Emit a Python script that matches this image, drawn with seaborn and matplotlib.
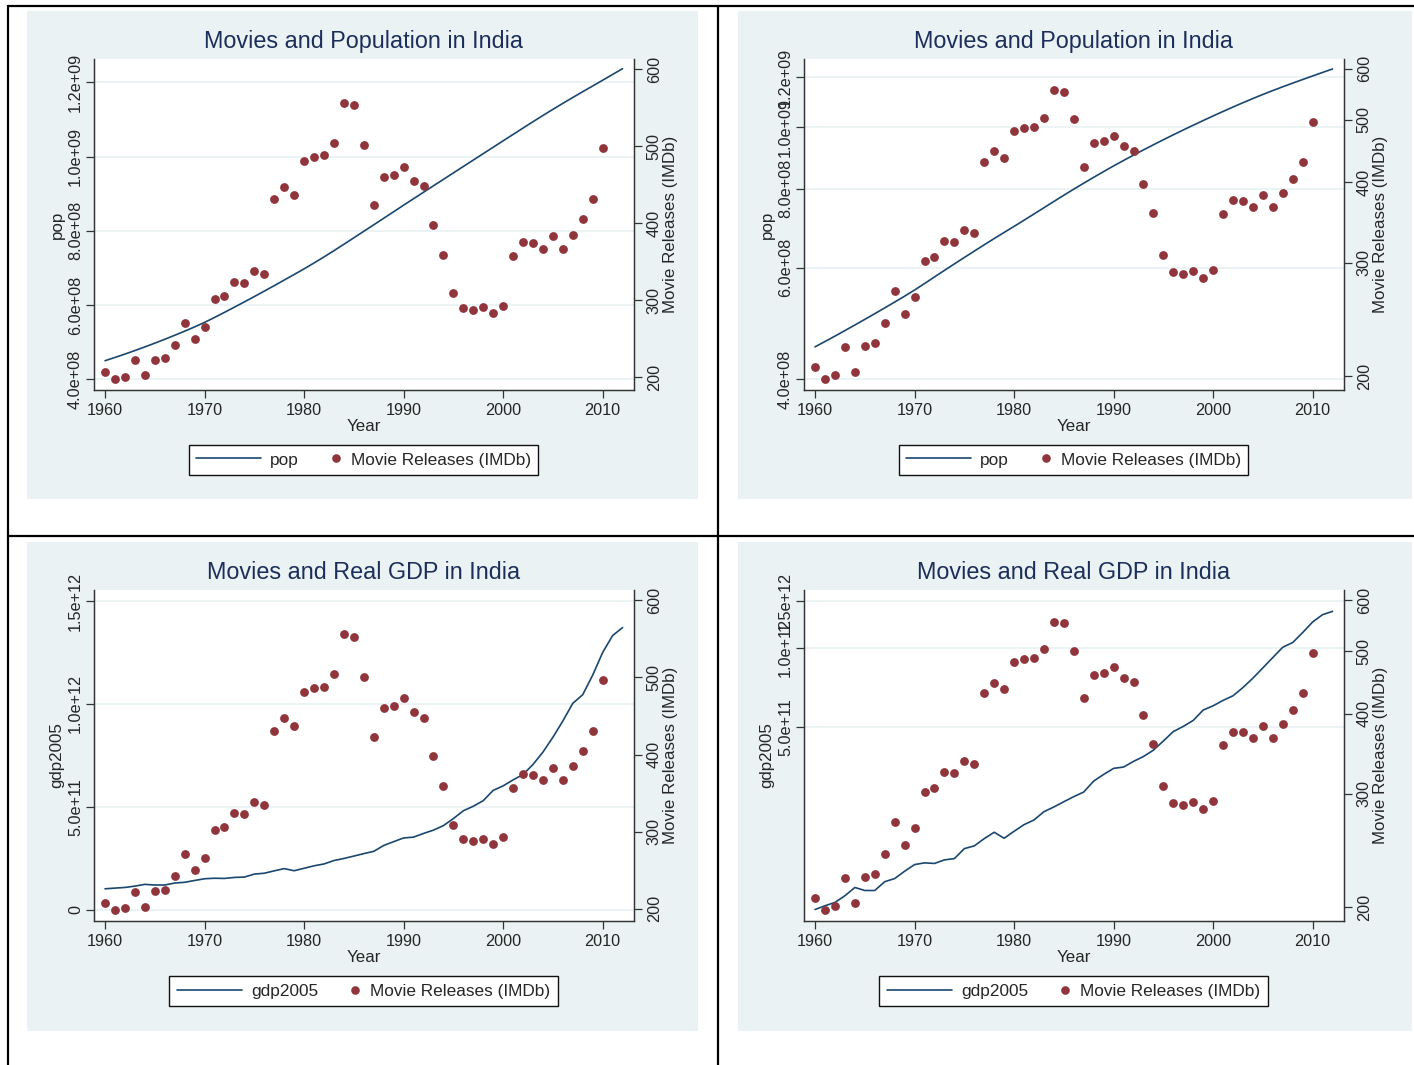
import matplotlib
matplotlib.use("Agg")
import matplotlib.pyplot as plt
import seaborn as sns
from matplotlib.patches import Rectangle
from matplotlib.lines import Line2D
from matplotlib.legend_handler import HandlerBase
from matplotlib.ticker import NullLocator

# ---------------- data ----------------
years_series = list(range(1960, 2013))
years_movies = list(range(1960, 2011))

movies = [207, 198, 201, 222, 203, 223, 225, 242, 271, 250,
          266, 302, 306, 324, 323, 338, 334, 431, 447, 437,
          481, 486, 488, 504, 556, 553, 501, 423, 460, 463,
          473, 455, 448, 398, 359, 309, 290, 288, 291, 284,
          293, 357, 375, 374, 367, 383, 367, 385, 405, 431,
          497]

pop_millions = [449.7, 458.5, 467.6, 477.1, 486.9, 497.0, 507.4, 518.2, 529.3, 540.8,
                553.0, 566.2, 580.0, 594.0, 608.2, 622.6, 637.2, 652.0, 667.0, 682.0,
                697.2, 713.1, 729.4, 746.2, 763.5, 781.0, 798.5, 816.0, 833.6, 851.2,
                868.9, 886.3, 903.7, 921.1, 938.4, 955.8, 973.1, 990.4, 1007.7, 1025.0,
                1042.3, 1059.5, 1076.7, 1093.8, 1110.6, 1127.1, 1143.3, 1159.1, 1174.7, 1190.1,
                1205.6, 1221.2, 1236.7]

gdp_1e11 = [1.02, 1.054, 1.085, 1.15, 1.236, 1.204, 1.204, 1.30, 1.336, 1.424,
            1.509, 1.532, 1.524, 1.572, 1.59, 1.734, 1.776, 1.892, 2.0, 1.898,
            2.017, 2.137, 2.226, 2.393, 2.493, 2.61, 2.728, 2.84, 3.125, 3.31,
            3.49, 3.53, 3.708, 3.87, 4.09, 4.43, 4.81, 5.03, 5.30, 5.80,
            6.02, 6.31, 6.57, 7.06, 7.66, 8.38, 9.17, 10.03, 10.45, 11.4,
            12.5, 13.32, 13.71]

pop = [v * 1e6 for v in pop_millions]
gdp = [v * 1e11 for v in gdp_1e11]

x_ticks = [1960, 1970, 1980, 1990, 2000, 2010]
movie_ticks = [200, 300, 400, 500, 600]
movie_tick_labels = ["200", "300", "400", "500", "600"]
pop_ticks = [4e8, 6e8, 8e8, 1e9, 1.2e9]
pop_tick_labels = ["4.0e+08", "6.0e+08", "8.0e+08", "1.0e+09", "1.2e+09"]
gdp_ticks_lin = [0, 5e11, 1e12, 1.5e12]
gdp_tick_labels_lin = ["0", "5.0e+11", "1.0e+12", "1.5e+12"]
gdp_ticks_log = [5e11, 1e12, 1.5e12]
gdp_tick_labels_log = ["5.0e+11", "1.0e+12", "1.5e+12"]

# ---------------- style ----------------
sns.set_style("white")
plt.rcParams["font.family"] = ["Liberation Sans", "DejaVu Sans"]

NAVY = "#1a476f"
MAROON = "#90353b"
BG = "#eaf2f3"
TITLE_C = "#1c2e5a"
AXC = "#333333"

W, H = 1414, 1065
fig = plt.figure(figsize=(W / 100, H / 100), dpi=100)
fig.patch.set_facecolor("white")


def fx(px):
    return px / W


def fy(py):
    return 1 - py / H


# panel backgrounds
for (x0, y0, x1, y1) in [(27, 11, 698, 499), (738, 11, 1412, 499),
                         (27, 542, 698, 1031), (738, 542, 1412, 1031)]:
    fig.patches.append(Rectangle((fx(x0), fy(y1)), (x1 - x0) / W, (y1 - y0) / H,
                                 transform=fig.transFigure, facecolor=BG,
                                 edgecolor="none", zorder=0))

# frame lines
for xs, ys in [((8, 1414), (5.5, 5.5)), ((8, 8), (5.5, 1065)),
               ((718, 718), (5.5, 1065)), ((8, 1414), (536, 536))]:
    fig.add_artist(Line2D([fx(xs[0]), fx(xs[1])], [fy(ys[0]), fy(ys[1])],
                          transform=fig.transFigure, color="black", lw=1.6))


class DotHandler(HandlerBase):
    def create_artists(self, legend, orig_handle, xdescent, ydescent,
                       width, height, fontsize, trans):
        x = -xdescent + width - 0.35 * fontsize
        y = (height - ydescent) / 2
        m = Line2D([x], [y], marker="o", linestyle="",
                   color=orig_handle.get_color(),
                   markersize=orig_handle.get_markersize(), markeredgewidth=0)
        m.set_transform(trans)
        return [m]


panels = [
    dict(dx=0, dy=0, y=pop, name="pop", log=False, title="Movies and Population in India",
         ylim=(3.721e8, 1.262e9), ticks=pop_ticks, tlabels=pop_tick_labels,
         mlim=(184.4, 612.5)),
    dict(dx=710, dy=0, y=pop, name="pop", log=True, title="Movies and Population in India",
         ylim=(3.85e8, 1.281e9), ticks=pop_ticks, tlabels=pop_tick_labels,
         mlim=(190.9, 621.0)),
    dict(dx=0, dy=531, y=gdp, name="gdp2005", log=False, title="Movies and Real GDP in India",
         ylim=(-5.2e10, 1.552e12), ticks=gdp_ticks_lin, tlabels=gdp_tick_labels_lin,
         mlim=(184.9, 612.9)),
    dict(dx=710, dy=531, y=gdp, name="gdp2005", log=True, title="Movies and Real GDP in India",
         ylim=(9.27e10, 1.647e12), ticks=gdp_ticks_log, tlabels=gdp_tick_labels_log,
         mlim=(190.7, 621.8)),
]

for p in panels:
    l, r = 94.3 + p["dx"], 633.5 + p["dx"]
    t, b = 59.3 + p["dy"], 389.5 + p["dy"]
    ax = fig.add_axes([fx(l), fy(b), (r - l) / W, (b - t) / H])
    ax.set_facecolor("white")
    ax.set_zorder(2)

    sns.lineplot(x=years_series, y=p["y"], ax=ax, color=NAVY, linewidth=1.2)
    ax2 = ax.twinx()
    sns.scatterplot(x=years_movies, y=movies, ax=ax2, color=MAROON, s=40,
                    linewidth=0, zorder=3)
    if ax2.get_legend() is not None:
        ax2.get_legend().remove()

    if p["log"]:
        ax.set_yscale("log")
        ax2.set_yscale("log")
    ax.set_xlim(1958.92, 2013.1)
    ax.set_ylim(*p["ylim"])
    ax2.set_ylim(*p["mlim"])

    ax.set_xticks(x_ticks)
    ax.set_xticklabels([str(v) for v in x_ticks], fontsize=11.7)
    ax.set_yticks(p["ticks"])
    ax.set_yticklabels(p["tlabels"], fontsize=11.7, rotation=90, va="center")
    ax.yaxis.set_minor_locator(NullLocator())
    ax2.set_yticks(movie_ticks)
    ax2.set_yticklabels(movie_tick_labels, fontsize=11.7, rotation=90, va="center")
    ax2.yaxis.set_minor_locator(NullLocator())

    ax.tick_params(axis="both", which="major", direction="out", length=5.5,
                   width=0.9, color=AXC, pad=2.6, left=True, bottom=True)
    ax.tick_params(axis="x", pad=4)
    ax2.tick_params(axis="y", which="major", direction="out", length=5.5,
                    width=0.9, color=AXC, pad=4, right=True)

    ax.yaxis.grid(True, color=BG, linewidth=1.3)
    ax.xaxis.grid(False)
    ax2.grid(False)

    for a in (ax, ax2):
        a.spines["top"].set_visible(False)
        for s in ("left", "right", "bottom"):
            a.spines[s].set_color(AXC)
            a.spines[s].set_linewidth(0.9)

    ax.set_xlabel("Year", fontsize=12.2)
    ax.xaxis.set_label_coords(0.5, -0.088)
    ax.set_ylabel(p["name"], fontsize=12.2)
    ax.yaxis.set_label_coords(-0.055, 0.5)
    ax2.set_ylabel("Movie Releases (IMDb)", fontsize=12.2)
    ax2.yaxis.set_label_coords(1.0547, 0.5)

    cx = 364 + p["dx"]
    fig.text(fx(cx), fy(41.7 + p["dy"]), p["title"], fontsize=16.8, color=TITLE_C,
             ha="center", va="center")

    h_line = Line2D([], [], color=NAVY, lw=1.2)
    h_dot = Line2D([], [], marker="o", linestyle="", color=MAROON, markersize=6.2)
    leg = ax.legend([h_line, h_dot], [p["name"], "Movie Releases (IMDb)"],
                    handler_map={h_dot: DotHandler()},
                    loc="center", bbox_to_anchor=(fx(363.5 + p["dx"]), fy(460 + p["dy"])),
                    bbox_transform=fig.transFigure, ncol=2, fontsize=12.4,
                    frameon=True, fancybox=False, framealpha=1, edgecolor="#111111",
                    handlelength=3.78, handletextpad=0.54, columnspacing=-1.3,
                    borderpad=0.42, borderaxespad=0)
    leg.get_frame().set_linewidth(1.0)
    leg.set_zorder(10)

fig.savefig("out.png", dpi=100, facecolor="white")
